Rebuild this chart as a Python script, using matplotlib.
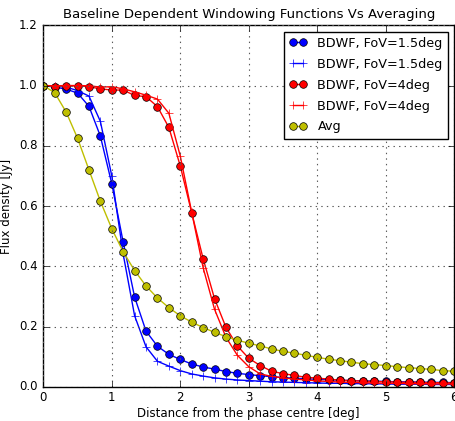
import numpy as np
import matplotlib
matplotlib.use('Agg')
import matplotlib.pyplot as plt

plt.style.use('classic')

# distance from phase centre, sampled every 1/6 deg
dist = np.arange(37) / 6.0

bdwf15_circ = [1.0, 0.995, 0.988, 0.975, 0.931, 0.832, 0.674, 0.480, 0.298, 0.185,
               0.135, 0.108, 0.091, 0.076, 0.066, 0.059, 0.051, 0.045, 0.041, 0.037,
               0.034, 0.031, 0.029, 0.027, 0.025, 0.024, 0.022, 0.021, 0.020, 0.019,
               0.018, 0.017, 0.017, 0.016, 0.015, 0.015, 0.014]
bdwf15_plus = [1.0, 0.998, 0.995, 0.983, 0.965, 0.881, 0.700, 0.440, 0.236, 0.133,
               0.085, 0.069, 0.054, 0.043, 0.036, 0.030, 0.026, 0.023, 0.021, 0.019,
               0.017, 0.016, 0.015, 0.014, 0.013, 0.012, 0.012, 0.011, 0.011, 0.010,
               0.010, 0.009, 0.009, 0.009, 0.008, 0.008, 0.008]
bdwf4_circ = [1.0, 0.996, 0.998, 0.999, 0.996, 0.989, 0.985, 0.985, 0.967, 0.963,
              0.930, 0.861, 0.733, 0.578, 0.426, 0.293, 0.198, 0.136, 0.095, 0.071,
              0.052, 0.044, 0.038, 0.032, 0.029, 0.026, 0.022, 0.021, 0.019, 0.018,
              0.017, 0.016, 0.015, 0.015, 0.014, 0.014, 0.013]
bdwf4_plus = [1.0, 0.999, 1.0, 1.0, 0.999, 0.995, 0.996, 0.989, 0.979, 0.968,
              0.955, 0.908, 0.766, 0.580, 0.396, 0.258, 0.165, 0.105, 0.067, 0.043,
              0.035, 0.030, 0.026, 0.023, 0.020, 0.018, 0.016, 0.015, 0.014, 0.013,
              0.012, 0.012, 0.011, 0.011, 0.010, 0.010, 0.010]
avg = [1.0, 0.976, 0.912, 0.825, 0.720, 0.616, 0.525, 0.448, 0.386, 0.335,
       0.295, 0.263, 0.236, 0.215, 0.197, 0.181, 0.167, 0.155, 0.145, 0.136,
       0.126, 0.118, 0.112, 0.105, 0.098, 0.092, 0.087, 0.082, 0.077, 0.074,
       0.071, 0.067, 0.064, 0.061, 0.058, 0.054, 0.052]

fig = plt.figure(figsize=(4.56, 4.21), dpi=100, facecolor='white')
ax = fig.add_axes([0.095, 0.081, 0.901, 0.859])

ms = 5.5
ax.plot(dist, bdwf15_circ, 'bo-', markersize=ms, label='BDWF, FoV=1.5deg')
ax.plot(dist, bdwf15_plus, 'b+-', markersize=6, label='BDWF, FoV=1.5deg')
ax.plot(dist, bdwf4_circ, 'ro-', markersize=ms, label='BDWF, FoV=4deg')
ax.plot(dist, bdwf4_plus, 'r+-', markersize=6, label='BDWF, FoV=4deg')
ax.plot(dist, avg, 'yo-', markersize=ms, label='Avg')

ax.set_xlim(0, 6)
ax.set_ylim(0, 1.2)
ax.grid(True, color='0.35', linestyle=':', linewidth=0.8)
ax.tick_params(labelsize=8.5)
ax.tick_params(axis='x', pad=3)
ax.set_title('Baseline Dependent Windowing Functions Vs Averaging', fontsize=9.5)
ax.set_xlabel('Distance from the phase centre [deg]', fontsize=8.5, labelpad=2)
ax.set_ylabel('Flux density [Jy]', fontsize=8.5, labelpad=4)
ax.legend(loc='upper right', fontsize=9.2, handlelength=1.4, labelspacing=0.62,
          borderaxespad=0.5)

fig.savefig('out.png', dpi=100, facecolor='white')
